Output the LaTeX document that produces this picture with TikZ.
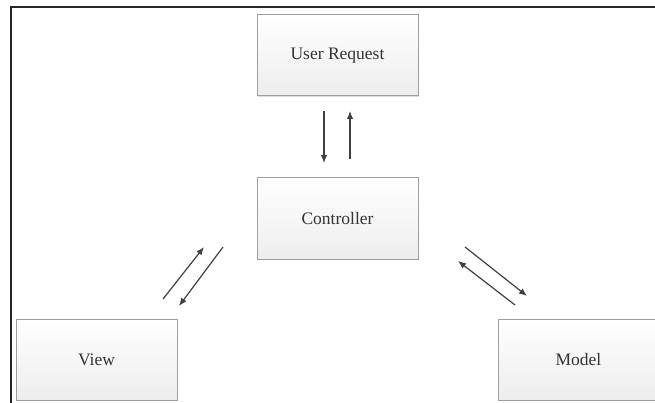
\documentclass[tikz,border=0pt]{standalone}
\usepackage{fontspec}
\setmainfont{Liberation Serif}
\usetikzlibrary{shadows,arrows.meta}
\begin{document}
\begin{tikzpicture}[x=1pt,y=-1pt,
  box/.style={draw=gray!75, line width=1pt, top color=white, bottom color=gray!14,
    minimum width=161pt, minimum height=81pt, inner sep=0pt,
    font=\fontsize{17.5}{20}\selectfont, text=black!80,
    drop shadow={shadow xshift=1pt, shadow yshift=-1.2pt, fill=gray!45, opacity=0.6}},
  arr/.style={draw=black!75, line width=1.2pt, -{Latex[length=8pt,width=6.5pt]}}]
\useasboundingbox (0,0) rectangle (655,403);
\clip (0,0) rectangle (655,403);
% outer frame
\draw[line width=1.8pt, black!85] (11,403) -- (11,7) -- (660,7);
% boxes
\node[box] (ur) at (337.5,55.5) {User Request};
\node[box] (ctl) at (337.5,218.5) {Controller};
\node[box] (view) at (96.5,359.5) {View};
\node[box] (model) at (578.5,359.5) {Model};
% arrow end points
\coordinate (a1s) at (324,111);
\coordinate (a1e) at (324,163);
\coordinate (a2s) at (350,159);
\coordinate (a2e) at (350,111);
\coordinate (b1s) at (163,299);
\coordinate (b1e) at (204,247);
\coordinate (b2s) at (223,247);
\coordinate (b2e) at (179,306);
\coordinate (c1s) at (465,247);
\coordinate (c1e) at (527,296);
\coordinate (c2s) at (515,305);
\coordinate (c2e) at (458,261);
\draw[arr] (a1s) -- (a1e);
\draw[arr] (a2s) -- (a2e);
\draw[arr] (b1s) -- (b1e);
\draw[arr] (b2s) -- (b2e);
\draw[arr] (c1s) -- (c1e);
\draw[arr] (c2s) -- (c2e);
\end{tikzpicture}
\end{document}
